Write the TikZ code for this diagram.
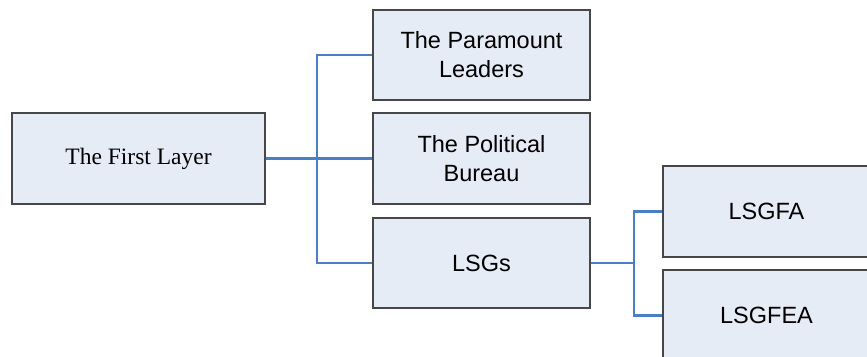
\documentclass[tikz,border=0pt]{standalone}
\usepackage{fontspec}
\setmainfont{Liberation Serif}
\setsansfont{Liberation Sans}
\begin{document}
\begin{tikzpicture}[x=1pt,y=-1pt,
  box/.style={draw=boxline, fill=boxfill, line width=1.2pt, inner sep=0pt,
    minimum width=217pt, minimum height=90pt, align=center,
    font=\sffamily\fontsize{23.5}{29}\selectfont},
  conn/.style={draw=connblue, line width=2.2pt}]
  \definecolor{boxfill}{HTML}{E6ECF6}
  \definecolor{boxline}{HTML}{474747}
  \definecolor{connblue}{HTML}{4A7EC6}
  \useasboundingbox (0,0) rectangle (867,356);
  \clip (0,0) rectangle (867,356);

  % left root box
  \node[box, minimum width=253pt, minimum height=91pt,
        font=\rmfamily\fontsize{23.5}{29}\selectfont] (first) at (138.5,158.5) {The First Layer};

  % middle column
  \node[box] (para) at (481.5,55) {The Paramount\\Leaders};
  \node[box, minimum height=91pt] (polit) at (481.5,158.5) {The Political\\Bureau};
  \node[box] (lsgs) at (481.5,263) {LSGs};

  % right column (runs past the page edge)
  \node[box, minimum width=207pt, minimum height=91pt] (lsgfa) at (766.5,211.5) {LSGFA};
  \node[box, minimum width=207pt, minimum height=91pt] (lsgfea) at (766.5,315.5) {LSGFEA};

  % junction points of the bracket connectors
  \coordinate (j1) at ([xshift=51pt]first.east);
  \coordinate (j2) at ([xshift=43pt]lsgs.east);

  \draw[conn] (first.east) -- (j1) -- (polit.west);
  \draw[conn] (para.west) -| (j1) |- (lsgs.west);

  \draw[conn] (lsgs.east) -- (j2);
  \draw[conn] (lsgfa.west) -| (j2) |- (lsgfea.west);
\end{tikzpicture}
\end{document}
